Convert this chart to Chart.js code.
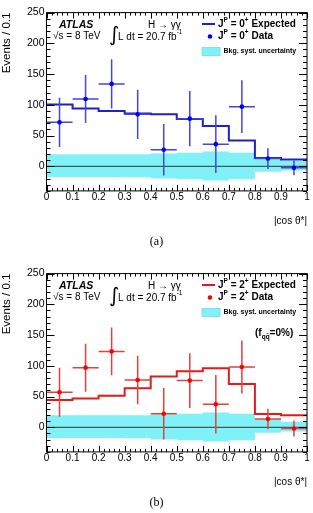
<!DOCTYPE html>
<html>
<head>
<meta charset="utf-8">
<script src="https://cdn.jsdelivr.net/npm/chart.js@4"></script>
<style>
html, body { margin: 0; padding: 0; background: #fff; }
#wrap { position: relative; width: 313px; height: 513px; }
.panel { position: absolute; left: 0; width: 313px; }
</style>
</head>
<body>
<div id="wrap">
  <div class="panel" style="top:0;height:261px"><canvas id="chartA"></canvas></div>
  <div class="panel" style="top:261px;height:252px"><canvas id="chartB"></canvas></div>
</div>
<script>
// bins in |cos theta*|
const binEdges = [0, 0.1, 0.2, 0.3, 0.4, 0.5, 0.6, 0.7, 0.8, 0.9, 1.0];
const binCenters = [0.05, 0.15, 0.25, 0.35, 0.45, 0.55, 0.65, 0.75, 0.85, 0.95];
const xTicks = [0, 0.1, 0.2, 0.3, 0.4, 0.5, 0.6, 0.7, 0.8, 0.9, 1];
const yTicks = [0, 50, 100, 150, 200, 250];

// background systematic band (same in both panels)
const bandHigh = [19.5, 19.5, 19.5, 19.5, 21, 22, 24, 22, 13, 9];
const bandLow = [-17.5, -17.5, -17.5, -18, -20, -21, -23, -21, -9, -7];

// (a) spin 0
const expected0 = [100.5, 94, 90, 86, 84.5, 77, 65.5, 42, 13.5, 11];
const data0 = [71.5, 109.5, 134, 84.5, 27, 77.5, 36, 97, 12.5, -2.5];
const err0 = [40, 39, 40, 40, 42, 45, 47, 43, 17, 12];

// (b) spin 2
const expected2 = [44.5, 47, 51.5, 63.5, 82.5, 91, 96, 70.5, 21.5, 19.5];
const data2 = [57, 97, 123.5, 77, 22, 76, 37.5, 98, 13.5, -2];
const err2 = [40, 39, 39, 39.5, 42, 44.5, 47.5, 43, 16.5, 13];

const bandColor = '#80f2f7';
const sans = '"Liberation Sans", Arial, sans-serif';

// histogram edges -> points for a stepped line
function stepPoints(vals) {
  const pts = vals.map((v, i) => ({ x: binEdges[i], y: v }));
  pts.push({ x: binEdges[binEdges.length - 1], y: vals[vals.length - 1] });
  return pts;
}

// draw text made of pieces [text, font, dy]
function richText(ctx, x, y, parts) {
  let cx = x;
  parts.forEach(([t, f, dy]) => {
    ctx.font = f;
    ctx.fillText(t, cx, y + (dy || 0));
    cx += ctx.measureText(t).width;
  });
}

function makeChart(id, cfg) {
  const H = document.getElementById(id).parentNode.clientHeight;

  const errorBars = {
    id: 'errorBars',
    beforeDatasetDraw(chart, args) {
      if (args.index !== 0) return;
      const xs = chart.scales.x, ys = chart.scales.y, ctx = chart.ctx;
      ctx.save();
      ctx.strokeStyle = cfg.errColor;
      ctx.lineWidth = 1.5;
      binCenters.forEach((c, i) => {
        const px = xs.getPixelForValue(c), py = ys.getPixelForValue(cfg.data[i]);
        ctx.beginPath();
        ctx.moveTo(xs.getPixelForValue(c - 0.05), py);
        ctx.lineTo(xs.getPixelForValue(c + 0.05), py);
        ctx.moveTo(px, ys.getPixelForValue(cfg.data[i] - cfg.err[i]));
        ctx.lineTo(px, ys.getPixelForValue(cfg.data[i] + cfg.err[i]));
        ctx.stroke();
      });
      ctx.restore();
    }
  };

  // ROOT style frame with inward ticks
  const frame = {
    id: 'frame',
    afterDatasetsDraw(chart) {
      const { ctx, chartArea: a } = chart;
      const xs = chart.scales.x, ys = chart.scales.y;
      ctx.save();
      ctx.strokeStyle = '#000';
      ctx.lineWidth = 1;
      ctx.strokeRect(a.left, a.top, a.right - a.left, a.bottom - a.top);
      ctx.beginPath();
      for (let k = 0; k <= 50; k++) {
        const v = k / 50;
        const len = k % 5 === 0 ? 6 : 3;
        const px = Math.round(xs.getPixelForValue(v)) + 0.5;
        ctx.moveTo(px, a.bottom); ctx.lineTo(px, a.bottom - len);
        ctx.moveTo(px, a.top); ctx.lineTo(px, a.top + len);
      }
      for (let v = -40; v <= 250; v += 10) {
        const len = v % 50 === 0 ? 8 : 4;
        const py = Math.round(ys.getPixelForValue(v)) + 0.5;
        ctx.moveTo(a.left, py); ctx.lineTo(a.left + len, py);
        ctx.moveTo(a.right, py); ctx.lineTo(a.right - len, py);
      }
      ctx.stroke();
      // x tick labels, placed with the x scale
      ctx.fillStyle = '#000';
      ctx.font = '10px ' + sans;
      ctx.textAlign = 'center';
      ctx.textBaseline = 'middle';
      xTicks.forEach(v => ctx.fillText(String(v), xs.getPixelForValue(v), a.bottom + 6.5));
      ctx.restore();
    },
    afterDraw(chart) {
      const ctx = chart.ctx;
      ctx.save();
      ctx.fillStyle = '#000';
      ctx.textBaseline = 'middle';
      ctx.textAlign = 'left';
      // labels
      ctx.font = 'italic bold 10.5px ' + sans;
      ctx.fillText('ATLAS', 59, 25);
      richText(ctx, 148, 25, [['H \u2192 \u03b3\u03b3', '10px ' + sans]]);
      richText(ctx, 53, 36.5, [['\u221as = 8 TeV', '10px ' + sans]]);
      ctx.font = '20px "DejaVu Sans", sans-serif';
      ctx.fillText('\u222b', 109, 36);
      richText(ctx, 118, 37, [['L dt = 20.7 fb', '10px ' + sans], ['-1', '6.5px ' + sans, -5]]);
      // legend
      const b = 'bold 10px ' + sans, s = 'bold 6.5px ' + sans;
      ctx.strokeStyle = cfg.lineColor;
      ctx.lineWidth = 2;
      ctx.beginPath(); ctx.moveTo(202, 24); ctx.lineTo(215, 24); ctx.stroke();
      richText(ctx, 218, 24, [['J', b], ['P', s, -4], [' = ' + cfg.spin, b], ['+', s, -4], [' Expected', b]]);
      ctx.fillStyle = cfg.pointColor;
      ctx.beginPath(); ctx.arc(210, 36.5, 2.3, 0, Math.PI * 2); ctx.fill();
      ctx.fillStyle = '#000';
      richText(ctx, 218, 36.5, [['J', b], ['P', s, -4], [' = ' + cfg.spin, b], ['+', s, -4], [' Data', b]]);
      ctx.fillStyle = bandColor;
      ctx.fillRect(202, 47.5, 18, 8);
      ctx.strokeStyle = '#6fdde4';
      ctx.lineWidth = 0.8;
      ctx.strokeRect(202, 47.5, 18, 8);
      ctx.fillStyle = '#000';
      ctx.font = 'bold 7px ' + sans;
      ctx.fillText('Bkg. syst. uncertainty', 223.5, 51.5);
      if (cfg.extra) {
        richText(ctx, 255, 72, [['(f', b], ['q\u0071\u0304', s, 4], ['=0%)', b]]);
      }
      // panel caption
      ctx.textAlign = 'center';
      ctx.font = '12px "Liberation Serif", "Times New Roman", serif';
      ctx.fillText(cfg.caption, 156.5, 242);
      ctx.restore();
    }
  };

  return new Chart(document.getElementById(id), {
    type: 'line',
    data: {
      datasets: [
        {
          label: 'Data',
          data: binCenters.map((x, i) => ({ x: x, y: cfg.data[i] })),
          showLine: false,
          pointRadius: 2.3,
          pointBorderWidth: 0,
          pointBackgroundColor: cfg.pointColor
        },
        {
          label: 'Expected',
          data: stepPoints(cfg.expected),
          stepped: 'before',
          borderColor: cfg.lineColor,
          borderWidth: 2,
          pointRadius: 0,
          fill: false
        },
        {
          label: 'zero',
          data: [{ x: 0, y: 0 }, { x: 1, y: 0 }],
          borderColor: '#333',
          borderWidth: 1,
          pointRadius: 0,
          fill: false
        },
        {
          label: 'bandHigh',
          data: stepPoints(bandHigh),
          stepped: 'before',
          borderColor: 'rgba(0,0,0,0)',
          borderWidth: 1,
          pointRadius: 0,
          fill: false
        },
        {
          label: 'bandLow',
          data: stepPoints(bandLow),
          stepped: 'before',
          borderColor: 'rgba(0,0,0,0)',
          borderWidth: 1,
          pointRadius: 0,
          backgroundColor: bandColor,
          fill: '-1'
        }
      ]
    },
    options: {
      responsive: true,
      maintainAspectRatio: false,
      animation: false,
      layout: { padding: { top: 12.6, right: 6, bottom: H - 190.9 - 36, left: 0 } },
      plugins: { legend: { display: false }, tooltip: { enabled: false } },
      scales: {
        x: {
          type: 'linear',
          min: 0,
          max: 1,
          grid: { display: false, drawTicks: false },
          border: { display: false },
          afterBuildTicks: (scale) => { scale.ticks = xTicks.map(v => ({ value: v })); },
          afterFit: (scale) => { scale.height = 36; },
          ticks: { display: false },
          title: {
            display: true,
            text: '|cos \u03b8*|',
            align: 'end',
            color: '#000',
            padding: { top: 0, bottom: 0 },
            font: { family: sans, size: 10 }
          }
        },
        y: {
          min: -40,
          max: 250,
          grid: { display: false, drawTicks: false },
          border: { display: false },
          afterBuildTicks: (scale) => { scale.ticks = yTicks.map(v => ({ value: v })); },
          afterFit: (scale) => { scale.width = 46.5; },
          ticks: {
            padding: 2,
            color: '#000',
            font: { family: sans, size: 10.5 }
          },
          title: {
            display: true,
            text: 'Events / 0.1',
            align: 'end',
            color: '#000',
            padding: { top: 0, bottom: 0 },
            font: { family: sans, size: 11.5 }
          }
        }
      }
    },
    plugins: [errorBars, frame]
  });
}

makeChart('chartA', {
  data: data0, err: err0, expected: expected0, spin: '0',
  lineColor: '#1f1fd0', pointColor: '#0000ff', errColor: '#4646d8',
  caption: '(a)', extra: false
});
makeChart('chartB', {
  data: data2, err: err2, expected: expected2, spin: '2',
  lineColor: '#e41a1a', pointColor: '#ff0000', errColor: '#e04040',
  caption: '(b)', extra: true
});
</script>
</body>
</html>
